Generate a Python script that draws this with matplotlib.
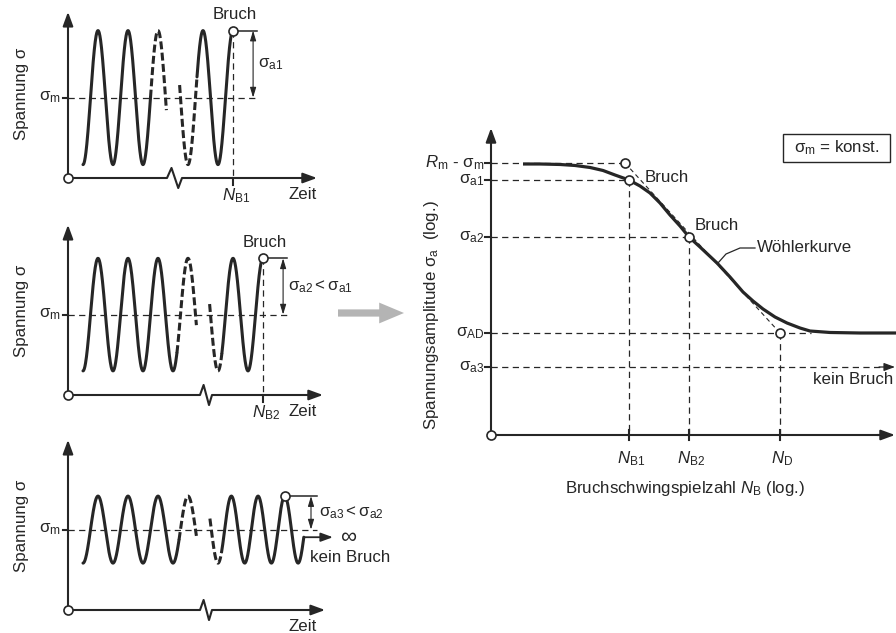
import numpy as np
import matplotlib.pyplot as plt
from matplotlib import font_manager
from matplotlib.patches import Rectangle, FancyArrow

# fonts: a narrow sans like the original if there is one
installed = {f.name for f in font_manager.fontManager.ttflist}
narrow = 'Liberation Sans Narrow' in installed
FONT = 'Liberation Sans Narrow' if narrow else 'Liberation Sans'
FS = 14 if narrow else 12.2
plt.rcParams['font.family'] = [FONT, 'DejaVu Sans']
plt.rcParams['font.size'] = FS
plt.rcParams['mathtext.fontset'] = 'custom'
plt.rcParams['mathtext.rm'] = FONT
plt.rcParams['mathtext.it'] = FONT + ':italic'
plt.rcParams['mathtext.bf'] = FONT + ':bold'
plt.rcParams['mathtext.sf'] = FONT

INK = '#262626'
GREY = '#b4b4b4'
W, H = 896, 633

# ---------------- data ----------------
# left: stress-time signals (stress in arbitrary units, time in load cycles)
sigma_m = [120, 120, 120]
sigma_a = [100, 84, 50]
sigma_top = [248, 254, 254]          # end of stress axis
time_end = [7.8, 8.0, 8.07]          # end of time axis
break_t = [(2.8, 3.3), (3.9, 4.3), (3.9, 4.3)]
before = [(2.25, 2.78), (3.13, 3.78), (3.2, 3.78)]        # solid until, dashed until
after = [(3.5, 1.0, 3.22, 3.80, 5.0),                     # trough, period, dashed from,
         (4.5, 1.0, 4.22, 4.63, 6.0),                     # solid from, end
         (4.5, 0.89, 4.23, 4.62, 7.36)]
circle_t = [5.0, 6.0, 6.725]
broken = [True, True, False]
mean_end = [5.8, 6.8, 7.8]
amp_x = [5.67, 6.67, 7.6]
N_labels = [r'$N_{\mathrm{B1}}$', r'$N_{\mathrm{B2}}$', None]
amp_labels = [r'$\mathrm{\sigma_{a1}}$',
              r'$\mathrm{\sigma_{a2} < \sigma_{a1}}$',
              r'$\mathrm{\sigma_{a3} < \sigma_{a2}}$']

# right: S-N curve (log N, log sigma_a in arbitrary units)
level_names = [r'$R_{\mathrm{m}}$ - $\mathrm{\sigma_m}$', r'$\mathrm{\sigma_{a1}}$',
               r'$\mathrm{\sigma_{a2}}$', r'$\mathrm{\sigma_{AD}}$', r'$\mathrm{\sigma_{a3}}$']
level_vals = [6.8, 6.375, 4.95, 2.55, 1.7]
N_names = [r'$N_{\mathrm{B1}}$', r'$N_{\mathrm{B2}}$', r'$N_{\mathrm{D}}$']
N_vals = [3.45, 4.95, 7.225]
knee_x = 3.35
curve_x = [0.8, 1.225, 1.725, 2.1, 2.475, 2.8, 3.1, 3.45, 3.725, 3.975, 4.225, 4.475,
           4.725, 4.95, 5.225, 5.65, 5.975, 6.3, 6.55, 6.8, 7.1, 7.4, 7.725, 7.975,
           8.475, 9.225, 10.125]
curve_y = [6.775, 6.775, 6.763, 6.738, 6.688, 6.613, 6.5, 6.375, 6.225, 6.05, 5.8, 5.5,
           5.225, 4.95, 4.7, 4.3, 3.95, 3.575, 3.35, 3.15, 2.95, 2.8, 2.675, 2.6,
           2.563, 2.55, 2.55]
N_axis_end = 10.1
S_axis_end = 7.675

fig = plt.figure(figsize=(W / 100, H / 100), dpi=100)


def make_axes(box, origin_px, origin_data, sx, sy):
    l, t, r, b = box
    ax = fig.add_axes([l / W, 1 - b / H, (r - l) / W, (b - t) / H])
    ox, oy = origin_px
    dx, dy = origin_data
    ax.set_xlim(dx + (l - ox) / sx, dx + (r - ox) / sx)
    ax.set_ylim(dy + (oy - b) / sy, dy + (oy - t) / sy)
    ax.set_axis_off()
    ax.patch.set_alpha(0)
    return ax


def arrow(ax, x0, y0, x1, y1, lw=1.5, style='-|>,head_length=0.6,head_width=0.22', ms=14):
    ax.annotate('', xy=(x1, y1), xytext=(x0, y0),
                arrowprops=dict(arrowstyle=style, color=INK, lw=lw, mutation_scale=ms,
                                shrinkA=0, shrinkB=0))


def ring(ax, x, y):
    ax.plot([x], [y], 'o', ms=6.5, mfc='white', mec=INK, mew=1.2, zorder=6, clip_on=False)


thin = dict(color=INK, lw=0.9, ls=(0, (5, 3.5)))
wave_dash = (0, (2.6, 1.1))

# ---------------- left panels ----------------
for i, oy in enumerate([178, 395, 610]):
    ax = make_axes((0, oy - 190, 420, oy + 40), (68, oy), (-0.5, 0), 30, 0.67)
    sm, sa = sigma_m[i], sigma_a[i]
    x0 = -0.5

    def wave(t, trough, period):
        return sm - sa * np.cos(2 * np.pi * (t - trough) / period)

    # axes
    arrow(ax, x0, 0, x0, sigma_top[i])
    b0, b1 = break_t[i]
    bw = b1 - b0
    ax.plot([x0, b0, b0 + 0.3 * bw, b0 + 0.75 * bw, b1, time_end[i] - 0.3],
            [0, 0, 15, -15, 0, 0], color=INK, lw=1.5)
    arrow(ax, time_end[i] - 0.45, 0, time_end[i], 0)
    ring(ax, x0, 0)

    # signal
    s_to, d_to = before[i]
    t = np.linspace(0, s_to, 300)
    ax.plot(t, wave(t, 0, 1), color=INK, lw=2.2, solid_capstyle='round')
    t = np.linspace(s_to, d_to, 80)
    ax.plot(t, wave(t, 0, 1), color=INK, lw=2.2, ls=wave_dash)
    tr, per, d_from, s_from, t_end = after[i]
    t = np.linspace(d_from, s_from, 80)
    ax.plot(t, wave(t, tr, per), color=INK, lw=2.2, ls=wave_dash)
    t = np.linspace(s_from, t_end, 300)
    ax.plot(t, wave(t, tr, per), color=INK, lw=2.2, solid_capstyle='round')

    # mean stress
    ax.plot([x0, mean_end[i]], [sm, sm], **thin)
    ax.plot([x0 - 0.17, x0], [sm, sm], color=INK, lw=1.5)
    ax.text(x0 - 0.25, sm, r'$\mathrm{\sigma_m}$', ha='right', va='center', color=INK)
    ax.text(-2.05, sm + 5, 'Spannung σ', rotation=90, ha='center', va='center', color=INK)

    # amplitude
    tc = circle_t[i]
    ax.plot([tc, mean_end[i]], [sm + sa, sm + sa], color=INK, lw=1.1)
    arrow(ax, amp_x[i], sm, amp_x[i], sm + sa, lw=0.8,
          style='<|-|>,head_length=0.5,head_width=0.15', ms=12)
    ax.text(mean_end[i] + 0.05, sm + sa / 2, amp_labels[i], ha='left', va='center',
            color=INK)
    ring(ax, tc, sm + sa)

    if broken[i]:
        ax.text(tc + 0.07, sm + sa + 24, 'Bruch', ha='center', va='center', color=INK)
        ax.plot([tc, tc], [sm + sa, 0], **thin)
        ax.plot([tc, tc], [0, -11], color=INK, lw=1.5)
        ax.text(tc + 0.1, -26, N_labels[i], ha='center', va='center', color=INK)
    else:
        y_end = wave(t_end, tr, per)
        arrow(ax, t_end, y_end, 8.33, y_end, lw=1.3, ms=12)
        ax.text(8.83, y_end, '∞', ha='center', va='center', color=INK, fontsize=FS + 4)
        ax.text(7.57, 79, 'kein Bruch', ha='left', va='center', color=INK)
    ax.text(7.33, -24, 'Zeit', ha='center', va='center', color=INK)

# ---------------- right panel ----------------
axr = make_axes((330, 110, 896, 520), (491, 435), (0, 0), 40, 40)

# grey arrow between the parts
axr.add_patch(FancyArrow(-3.825, 3.05, 1.65, 0, width=0.18, head_width=0.52,
                         head_length=0.62, length_includes_head=True,
                         color=GREY, lw=0))

arrow(axr, 0, 0, 0, S_axis_end)
axr.plot([0, N_axis_end - 0.3], [0, 0], color=INK, lw=1.5)
arrow(axr, N_axis_end - 0.45, 0, N_axis_end, 0)
ring(axr, 0, 0)

# guide lines
axr.plot([0, knee_x], [level_vals[0]] * 2, **thin)
axr.plot([0, N_vals[0]], [level_vals[1]] * 2, **thin)
axr.plot([0, N_vals[1]], [level_vals[2]] * 2, **thin)
axr.plot([0, 8.0], [level_vals[3]] * 2, **thin)
axr.plot([0, N_axis_end - 0.3], [level_vals[4]] * 2, **thin)
arrow(axr, N_axis_end - 0.4, level_vals[4], N_axis_end, level_vals[4], lw=0.9, ms=11)
axr.plot([knee_x, N_vals[2]], [level_vals[0], level_vals[3]], color=INK, lw=0.8,
         ls=(0, (4, 3)))
for nx, ny in zip(N_vals, [level_vals[1], level_vals[2], level_vals[3]]):
    axr.plot([nx, nx], [ny, 0], **thin)
    axr.plot([nx, nx], [0.12, -0.12], color=INK, lw=1.5)

# y ticks + labels
for name, v in zip(level_names, level_vals):
    axr.plot([-0.15, 0], [v, v], color=INK, lw=1.5)
    axr.text(-0.17, v, name, ha='right', va='center', color=INK)
for name, v in zip(N_names, N_vals):
    axr.text(v + 0.05, -0.6, name, ha='center', va='center', color=INK)

# S-N curve
axr.plot(curve_x, curve_y, color=INK, lw=2.3, solid_joinstyle='round',
         solid_capstyle='butt', zorder=4)
ring(axr, knee_x, level_vals[0])
ring(axr, N_vals[0], level_vals[1])
ring(axr, N_vals[1], level_vals[2])
ring(axr, N_vals[2], level_vals[3])

axr.text(3.85, 6.45, 'Bruch', ha='left', va='center', color=INK)
axr.text(5.1, 5.25, 'Bruch', ha='left', va='center', color=INK)
axr.text(6.65, 4.675, 'Wöhlerkurve', ha='left', va='center', color=INK)
axr.plot([6.6, 6.225, 5.875, 5.675], [4.675, 4.675, 4.525, 4.3], color=INK, lw=0.9)
axr.text(10.05, 1.375, 'kein Bruch', ha='right', va='center', color=INK)

axr.add_patch(Rectangle((7.3, 6.825), 2.675, 0.7, fill=False, ec=INK, lw=1.0))
axr.text(8.64, 7.175, r'$\mathrm{\sigma_m}$ = konst.', ha='center', va='center',
         color=INK)

axr.text(-1.5, 3.0, r'Spannungsamplitude $\mathrm{\sigma_a}$  (log.)', rotation=90,
         ha='center', va='center', color=INK)
axr.text(4.85, -1.325, r'Bruchschwingspielzahl $N_{\mathrm{B}}$ (log.)', ha='center',
         va='center', color=INK)

fig.savefig('out.png', dpi=100)
